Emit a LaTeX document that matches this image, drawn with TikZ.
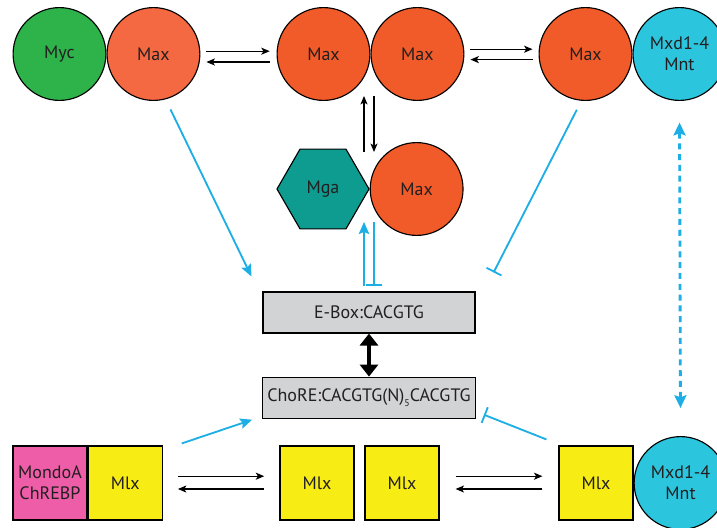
\documentclass[tikz,border=0pt]{standalone}
\usepackage{fontspec}
\setmainfont{PT Sans}
\usepackage{xcolor}
\usepackage{tikz}
\usetikzlibrary{shapes,arrows.meta,positioning}

\definecolor{mycgreen}{RGB}{45,179,74}
\definecolor{maxlight}{RGB}{244,104,66}
\definecolor{maxorange}{RGB}{241,90,41}
\definecolor{mxdcyan}{RGB}{44,197,222}
\definecolor{mgateal}{RGB}{14,156,145}
\definecolor{mondopink}{RGB}{238,93,168}
\definecolor{mlxyellow}{RGB}{247,236,19}
\definecolor{boxgray}{RGB}{209,211,212}
\definecolor{linkcyan}{RGB}{28,174,228}
\definecolor{txt}{RGB}{35,31,32}

\begin{document}
\begin{tikzpicture}[
    x=0.025cm, y=-0.025cm,
    font=\fontsize{12.8}{15}\selectfont,
    prot/.style={circle, draw, line width=0.8pt, minimum size=2.32cm, inner sep=0pt, align=center, text=txt},
    hexa/.style={regular polygon, regular polygon sides=6, draw, line width=0.8pt, minimum size=2.3cm, inner sep=0pt, text=txt},
    sq/.style={rectangle, draw, line width=0.8pt, minimum size=1.85cm, inner sep=0pt, align=center, text=txt},
    site/.style={rectangle, draw, line width=0.8pt, fill=boxgray, minimum width=5.3cm, minimum height=1.025cm, text=txt},
    eq/.style={-{Stealth[length=6pt, width=5pt, inset=1.5pt]}, line width=0.8pt},
    act/.style={-{Stealth[length=0.3cm, width=0.26cm, inset=1.5pt]}, linkcyan, line width=1.3pt},
    rep/.style={-{Bar[width=0.42cm, line width=1.3pt]}, linkcyan, line width=1.3pt}
]
    \useasboundingbox (0,0) rectangle (717,527);

    % top row of dimers
    \node[prot, fill=mycgreen] (myc) at (59.5,54) {Myc};
    \node[prot, fill=maxlight, right=0pt of myc] (max_a) {Max};
    \node[prot, fill=maxorange] (max_b) at (323.5,54) {Max};
    \node[prot, fill=maxorange, right=0pt of max_b] (max_c) {Max};
    \node[prot, fill=maxorange] (max_d) at (585.5,54) {Max};
    \node[prot, fill=mxdcyan, right=0pt of max_d] (mxd_top) {Mxd1-4\\Mnt};

    % Mga:Max
    \node[hexa, fill=mgateal] (mga) at (323,189) {Mga};
    \node[prot, fill=maxorange, right=0pt of mga] (max_e) {Max};

    % DNA sites
    \node[site] (ebox) at (369,312.5) {E-Box:CACGTG};
    \node[site, below=1.075cm of ebox] (chore) {ChoRE:CACGTG(N)\raisebox{-0.45ex}{\scriptsize 5}CACGTG};

    % bottom row of Mlx partners
    \node[sq, fill=mondopink] (mondo) at (50,483) {MondoA\\ChREBP};
    \node[sq, fill=mlxyellow, right=0pt of mondo] (mlx_a) {Mlx};
    \node[sq, fill=mlxyellow] (mlx_b) at (317,483) {Mlx};
    \node[sq, fill=mlxyellow] (mlx_c) at (402,483) {Mlx};
    \node[sq, fill=mlxyellow] (mlx_d) at (596,483) {Mlx};
    \node[prot, fill=mxdcyan, right=0pt of mlx_d] (mxd_bot) {Mxd1-4\\Mnt};

    % ends of the short vertical pairs
    \coordinate (swap_t) at (369,96);
    \coordinate (swap_b) at (369,152);
    \coordinate (bind_t) at (369,222);
    \coordinate (bind_b) at (369,286);

    % exchange arrows
    \draw[eq, shorten <=0.15cm, shorten >=0.17cm] ([yshift=0.07cm]max_a.east) -- ([yshift=0.07cm]max_b.west);
    \draw[eq, shorten <=0.17cm, shorten >=0.15cm] ([yshift=-0.2cm]max_b.west) -- ([yshift=-0.2cm]max_a.east);
    \draw[eq, shorten <=0.15cm, shorten >=0.15cm] ([yshift=0.12cm]max_c.east) -- ([yshift=0.12cm]max_d.west);
    \draw[eq, shorten <=0.15cm, shorten >=0.15cm] ([yshift=-0.14cm]max_d.west) -- ([yshift=-0.14cm]max_c.east);
    \draw[eq] ([xshift=-0.125cm]swap_b) -- ([xshift=-0.125cm]swap_t);
    \draw[eq] ([xshift=0.125cm]swap_t) -- ([xshift=0.125cm]swap_b);
    \draw[eq, shorten <=0.38cm, shorten >=0.38cm] ([yshift=0.17cm]mlx_a.east) -- ([yshift=0.17cm]mlx_b.west);
    \draw[eq, shorten <=0.38cm, shorten >=0.38cm] ([yshift=-0.15cm]mlx_b.west) -- ([yshift=-0.15cm]mlx_a.east);
    \draw[eq, shorten <=0.4cm, shorten >=0.4cm] ([yshift=0.17cm]mlx_c.east) -- ([yshift=0.17cm]mlx_d.west);
    \draw[eq, shorten <=0.4cm, shorten >=0.4cm] ([yshift=-0.15cm]mlx_d.west) -- ([yshift=-0.15cm]mlx_c.east);

    % E-box <-> ChoRE
    \draw[line width=3.5pt, {Triangle[length=0.3cm, width=0.45cm]}-{Triangle[length=0.3cm, width=0.45cm]}] (ebox.south) -- (chore.north);

    % regulation of the sites
    \draw[act, shorten <=0.28cm] (max_a.285) -- ([shift={(-11,-15)}]ebox.north west);
    \draw[rep, shorten <=0.25cm] (max_d.265) -- ([shift={(18,-19)}]ebox.north east);
    \draw[act] ([xshift=-0.125cm]bind_b) -- ([xshift=-0.125cm]bind_t);
    \draw[rep] ([xshift=0.125cm]bind_t) -- ([xshift=0.125cm]bind_b);
    \draw[act] ([shift={(19,-2)}]mlx_a.north east) -- ([shift={(-10,1)}]chore.south west);
    \draw[rep] ([shift={(-12,-6)}]mlx_d.north west) -- ([shift={(8,-4)}]chore.south east);
    \draw[linkcyan, line width=2pt, dash pattern=on 0.15cm off 0.12cm,
          {Stealth[length=0.32cm, width=0.3cm, inset=1.5pt]}-{Stealth[length=0.32cm, width=0.3cm, inset=1.5pt]},
          shorten <=0.54cm, shorten >=0.7cm] (mxd_top.south) -- (mxd_bot.north);
\end{tikzpicture}
\end{document}
